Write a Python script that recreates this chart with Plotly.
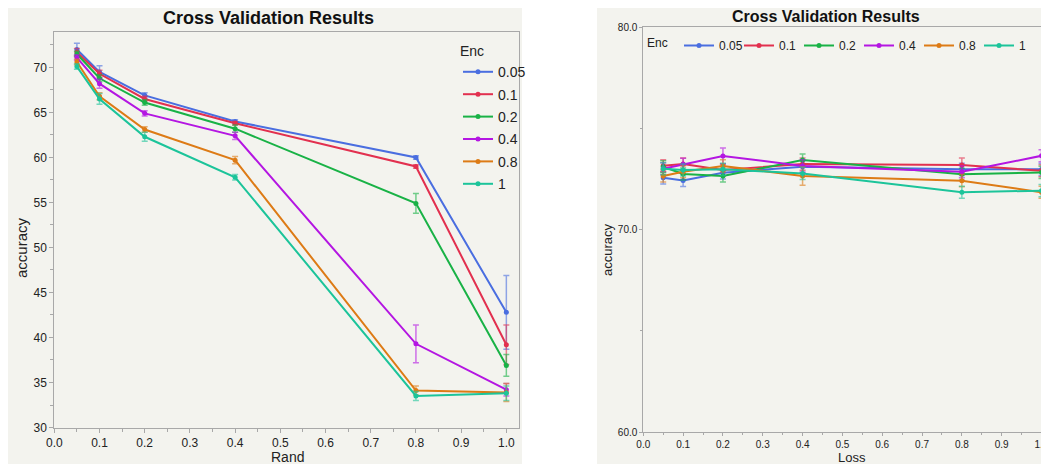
import plotly.graph_objects as go

# The page body has an 8px default margin, so the figure sits at (8, 8)
OFF = 8
W, H = 1049 - OFF, 464 - OFF

enc_levels = ["0.05", "0.1", "0.2", "0.4", "0.8", "1"]
colors = ["#4a6ee0", "#e2304f", "#19b246", "#b416e2", "#dd7b16", "#1cc49a"]
err_colors = ["rgba(74,110,224,0.6)", "rgba(226,48,79,0.6)", "rgba(25,178,70,0.6)",
              "rgba(180,22,226,0.6)", "rgba(221,123,22,0.6)", "rgba(28,196,154,0.6)"]

# Left panel: accuracy vs Rand
rand_x = [0.05, 0.1, 0.2, 0.4, 0.8, 1.0]
rand_acc = {
    "0.05": [72.0, 69.5, 66.9, 64.0, 60.0, 42.8],
    "0.1":  [71.7, 69.3, 66.5, 63.8, 59.0, 39.2],
    "0.2":  [71.5, 68.8, 66.1, 63.2, 54.9, 36.9],
    "0.4":  [71.1, 68.2, 64.9, 62.4, 39.3, 34.2],
    "0.8":  [70.6, 66.8, 63.1, 59.7, 34.1, 33.9],
    "1":    [70.1, 66.5, 62.3, 57.8, 33.5, 33.8],
}
rand_err = {
    "0.05": [0.7, 0.7, 0.3, 0.2, 0.2, 4.1],
    "0.1":  [0.4, 0.4, 0.3, 0.2, 0.2, 2.2],
    "0.2":  [0.3, 0.4, 0.3, 0.4, 1.1, 1.2],
    "0.4":  [0.3, 0.5, 0.3, 0.4, 2.1, 0.7],
    "0.8":  [0.3, 0.4, 0.3, 0.4, 0.5, 1.0],
    "1":    [0.3, 0.6, 0.5, 0.3, 0.5, 0.8],
}

# Right panel: accuracy vs Loss
loss_x = [0.05, 0.1, 0.2, 0.4, 0.8, 1.0]
loss_acc = {
    "0.05": [72.55, 72.42, 72.80, 73.10, 72.97, 72.97],
    "0.1":  [73.15, 73.23, 72.94, 73.23, 73.18, 72.90],
    "0.2":  [73.10, 72.74, 72.64, 73.43, 72.73, 72.82],
    "0.4":  [73.00, 73.22, 73.63, 73.14, 72.85, 73.64],
    "0.8":  [72.64, 72.85, 73.14, 72.64, 72.41, 71.84],
    "1":    [73.00, 72.94, 72.97, 72.77, 71.84, 71.92],
}
loss_err = {
    "0.05": [0.3, 0.3, 0.3, 0.3, 0.3, 0.3],
    "0.1":  [0.3, 0.3, 0.3, 0.3, 0.35, 0.3],
    "0.2":  [0.3, 0.3, 0.3, 0.3, 0.3, 0.3],
    "0.4":  [0.3, 0.3, 0.4, 0.3, 0.3, 0.3],
    "0.8":  [0.3, 0.3, 0.3, 0.45, 0.3, 0.3],
    "1":    [0.3, 0.3, 0.3, 0.3, 0.3, 0.3],
}

fig = go.Figure()

for i, lvl in enumerate(enc_levels):
    fig.add_trace(go.Scatter(
        x=rand_x, y=rand_acc[lvl], mode="lines+markers", name=lvl,
        line=dict(color=colors[i], width=2), marker=dict(size=5, color=colors[i]),
        error_y=dict(type="data", array=rand_err[lvl], color=err_colors[i], thickness=1.5, width=3),
        xaxis="x", yaxis="y", legend="legend", legendgroup="L" + lvl,
    ))
for i, lvl in enumerate(enc_levels):
    fig.add_trace(go.Scatter(
        x=loss_x, y=loss_acc[lvl], mode="lines+markers", name=lvl,
        line=dict(color=colors[i], width=2), marker=dict(size=5, color=colors[i]),
        error_y=dict(type="data", array=loss_err[lvl], color=err_colors[i], thickness=1.5, width=3),
        xaxis="x2", yaxis="y2", legend="legend2", legendgroup="R" + lvl,
    ))

def px_x(p):
    return (p - OFF) / W

def px_y(p):
    return 1 - (p - OFF) / H

panel_bg = "#f3f3ee"
axis_col = "#a8a8a8"
tick_font = dict(family="Liberation Sans, Arial, sans-serif", size=12, color="#222")
tick_font_r = dict(family="Liberation Sans, Arial, sans-serif", size=10, color="#222")

common = dict(showgrid=False, zeroline=False, showline=True, linecolor=axis_col, linewidth=1,
              mirror=True, ticks="outside", tickcolor=axis_col, ticklabeloverflow="allow")

fig.update_layout(
    width=W, height=H,
    margin=dict(l=0, r=0, t=0, b=0, autoexpand=False),
    paper_bgcolor="white",
    plot_bgcolor="white",
    showlegend=True,
    xaxis=dict(domain=[px_x(54.3), px_x(519)], range=[0, 1.028], anchor="y",
               dtick=0.1, tickformat=".1f", tickfont=tick_font, ticklen=4,
               minor=dict(dtick=0.05, ticks="outside", ticklen=3, tickcolor=axis_col), **common),
    yaxis=dict(domain=[px_y(427.5), px_y(32)], range=[30, 73.94], anchor="x",
               dtick=5, tickfont=tick_font, ticklen=4,
               minor=dict(dtick=2.5, ticks="outside", ticklen=3, tickcolor=axis_col), **common),
    xaxis2=dict(domain=[px_x(643.3), px_x(1047)], range=[0, 1.0138], anchor="y2",
                dtick=0.1, tickformat=".1f", tickfont=tick_font_r, ticklen=3,
                minor=dict(dtick=0.05, ticks="outside", ticklen=2, tickcolor=axis_col), **common),
    yaxis2=dict(domain=[px_y(432), px_y(27)], range=[60, 80], anchor="x2",
                dtick=10, tickformat=".1f", tickfont=tick_font_r, ticklen=3,
                minor=dict(dtick=5, ticks="outside", ticklen=2, tickcolor=axis_col), **common),
    legend=dict(x=px_x(458), y=px_y(38), xanchor="left", yanchor="top",
                bgcolor="rgba(0,0,0,0)", orientation="v",
                title=dict(text="Enc", side="top", font=dict(size=14, color="#222")),
                font=dict(family="Liberation Sans, Arial, sans-serif", size=14, color="#222"),
                itemwidth=30, tracegroupgap=1.2),
    legend2=dict(x=px_x(645), y=px_y(31), xanchor="left", yanchor="top",
                 bgcolor="rgba(0,0,0,0)", orientation="h",
                 title=dict(text="Enc ", side="left", font=dict(size=12, color="#222")),
                 font=dict(family="Liberation Sans, Arial, sans-serif", size=12, color="#222"),
                 itemwidth=30, entrywidth=15, entrywidthmode="pixels"),
    font=dict(family="Liberation Sans, Arial, sans-serif", color="#222"),
    shapes=[
        dict(type="rect", xref="paper", yref="paper", x0=px_x(7), x1=px_x(522), y0=0, y1=px_y(8),
             fillcolor=panel_bg, line=dict(width=0), layer="below"),
        dict(type="rect", xref="paper", yref="paper", x0=px_x(597), x1=1, y0=0, y1=px_y(8),
             fillcolor=panel_bg, line=dict(width=0), layer="below"),
    ],
    annotations=[
        dict(text="<b>Cross Validation Results</b>", xref="paper", yref="paper",
             x=px_x(268), y=px_y(18), showarrow=False, font=dict(size=18, color="#111"),
             xanchor="center", yanchor="middle"),
        dict(text="<b>Cross Validation Results</b>", xref="paper", yref="paper",
             x=px_x(826), y=px_y(16), showarrow=False, font=dict(size=16, color="#111"),
             xanchor="center", yanchor="middle"),
        dict(text="Rand", xref="paper", yref="paper", x=px_x(287), y=px_y(457),
             showarrow=False, font=dict(size=14, color="#222"), xanchor="center", yanchor="middle"),
        dict(text="accuracy", xref="paper", yref="paper", x=px_x(21), y=px_y(248),
             showarrow=False, textangle=-90, font=dict(size=15, color="#222"),
             xanchor="center", yanchor="middle"),
        dict(text="Loss", xref="paper", yref="paper", x=px_x(852), y=px_y(457),
             showarrow=False, font=dict(size=13, color="#222"), xanchor="center", yanchor="middle"),
        dict(text="accuracy", xref="paper", yref="paper", x=px_x(607), y=px_y(250),
             showarrow=False, textangle=-90, font=dict(size=13, color="#222"),
             xanchor="center", yanchor="middle"),
    ],
)

fig.write_html("out.html")
